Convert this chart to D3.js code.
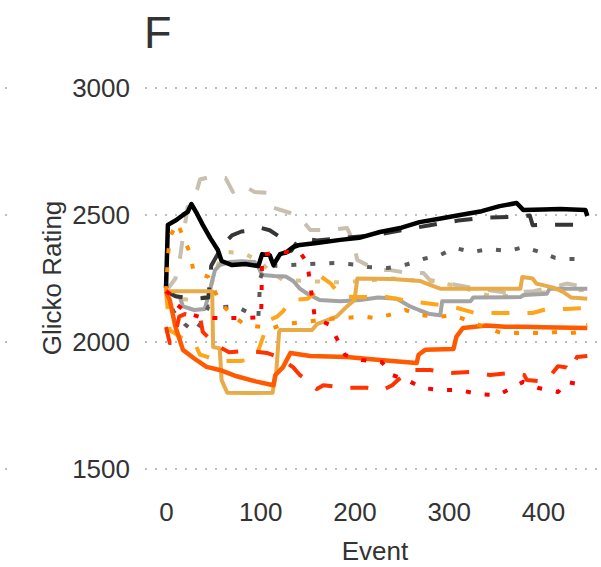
<!DOCTYPE html>
<html><head><meta charset="utf-8">
<script src="https://cdn.jsdelivr.net/npm/d3@7"></script>
<style>html,body{margin:0;padding:0;background:#fff;}svg{display:block;font-family:"Liberation Sans",Arial,sans-serif;}</style>
</head><body>
<svg id="chart" width="601" height="567"></svg>
<script>
// ---- data ----
const panelLabel = "F";
const xTicks = [0, 100, 200, 300, 400];
const yTicks = [1500, 2000, 2500, 3000];
const xTitle = "Event";
const yTitle = "Glicko Rating";

const seriesNames = ["black","darkDashed","darkDotted","graySolid","tanDashed","tanDotted","goldSolid","orangeDashed","orangeDotted","redOrangeSolid","redDashed","redDotted"];
const seriesColors = ["#000000","#363636","#5a5a5a","#a3a3a3","#c9bfae","#dcbf8a","#e8ab48","#ffa51a","#ff8c00","#ff5a00","#ff3300","#ff0000"];
const seriesTypes = ["solid","dashed","dotted","solid","dashed","dotted","solid","dashed","dotted","solid","dashed","dotted"];

const black = [[0,2213],[2,2461],[11,2480],[18,2500],[23,2512],[27,2543],[33,2504],[39,2461],[47,2409],[55,2362],[59,2319],[70,2303],[84,2307],[98,2299],[102,2346],[110,2342],[114,2303],[121,2346],[128,2354],[135,2374],[142,2382],[160,2390],[185,2402],[205,2410],[227,2433],[250,2450],[269,2472],[290,2485],[312,2500],[335,2515],[354,2535],[372,2547],[379,2520],[400,2522],[418,2524],[445,2520],[447,2496]];
const darkDashed = [[0,2200],[10,2180],[30,2170],[45,2175],[48,2300],[60,2380],[70,2420],[80,2435],[92,2440],[100,2450],[110,2440],[121,2413],[126,2350],[133,2360],[142,2410],[160,2400],[190,2410],[220,2420],[250,2440],[280,2460],[310,2478],[340,2490],[365,2492],[386,2498],[389,2460],[420,2462],[445,2461]];
const darkDotted = [[0,2200],[8,2120],[20,2070],[30,2040],[38,2080],[45,2140],[60,2138],[75,2140],[90,2110],[98,2100],[100,2250],[104,2290],[115,2300],[132,2303],[160,2308],[181,2311],[200,2305],[215,2295],[235,2291],[255,2305],[273,2327],[291,2343],[307,2370],[325,2354],[342,2366],[363,2358],[380,2374],[397,2354],[413,2331],[424,2327],[447,2327]];
const graySolid = [[0,2200],[15,2173],[18,2140],[30,2126],[41,2130],[45,2180],[49,2240],[52,2283],[57,2303],[68,2315],[80,2318],[94,2315],[98,2295],[102,2264],[115,2260],[127,2258],[135,2240],[142,2210],[150,2190],[163,2165],[185,2160],[206,2165],[225,2175],[245,2170],[259,2140],[269,2125],[280,2110],[291,2105],[293,2160],[323,2160],[326,2175],[376,2177],[380,2185],[404,2190],[407,2210],[447,2210]];
const tanDashed = [[0,2200],[10,2250],[15,2335],[18,2413],[23,2531],[27,2551],[33,2600],[36,2640],[47,2650],[63,2646],[71,2591],[81,2618],[94,2591],[107,2587],[112,2531],[132,2508],[142,2492],[153,2441],[174,2441],[192,2449],[198,2402],[203,2323],[224,2283],[238,2283],[256,2272],[273,2272],[280,2244],[300,2230],[330,2210],[360,2195],[390,2200],[410,2215],[425,2230],[440,2220],[447,2205]];
const tanDotted = [[0,2200],[5,2185],[13,2173],[25,2165],[36,2173],[45,2180],[50,2250],[57,2323],[66,2354],[82,2350],[97,2323],[110,2280],[124,2244],[150,2240],[180,2235],[210,2240],[240,2250],[256,2244],[280,2240],[310,2220],[340,2185],[370,2180],[400,2195],[420,2200],[447,2205]];
const goldSolid = [[0,2200],[49,2200],[50,1980],[57,1975],[59,1850],[65,1800],[90,1799],[113,1800],[117,1880],[120,2040],[121,2047],[155,2047],[160,2070],[181,2100],[192,2140],[200,2165],[203,2250],[240,2248],[270,2240],[280,2225],[291,2210],[376,2210],[378,2256],[389,2250],[393,2230],[410,2215],[420,2200],[430,2175],[447,2170]];
const orangeDashed = [[0,2200],[2,2120],[4,2047],[15,2020],[30,2000],[36,1950],[45,1940],[57,1925],[79,1925],[95,1935],[103,2020],[110,2087],[118,2100],[124,2120],[132,2165],[150,2170],[160,2200],[165,2256],[175,2230],[185,2180],[200,2177],[234,2177],[260,2160],[291,2146],[309,2134],[328,2114],[389,2114],[404,2130],[425,2130],[447,2134]];
const orangeDotted = [[0,2200],[2,2335],[4,2413],[12,2469],[25,2354],[29,2283],[45,2256],[57,2157],[70,2106],[84,2067],[100,2060],[110,2050],[125,2070],[150,2080],[170,2090],[190,2095],[210,2100],[222,2094],[236,2106],[254,2126],[269,2106],[291,2100],[305,2106],[330,2070],[356,2035],[378,2035],[399,2035],[415,2039],[429,2035],[440,2040],[445,2067],[447,2067]];
const redOrangeSolid = [[0,2200],[4,2165],[10,2060],[18,1969],[30,1935],[43,1902],[57,1890],[75,1865],[95,1845],[114,1830],[116,1870],[124,1900],[132,1957],[153,1945],[192,1941],[227,1929],[266,1917],[268,1950],[275,1969],[305,1972],[308,2020],[315,2055],[340,2065],[360,2060],[380,2060],[400,2058],[447,2055]];
const redDashed = [[0,2059],[4,1996],[8,2000],[14,2100],[20,2110],[36,2100],[39,2040],[47,2010],[57,1980],[67,1960],[86,1965],[107,1957],[120,1940],[135,1900],[142,1870],[150,1850],[160,1815],[167,1830],[188,1820],[213,1820],[230,1811],[240,1830],[246,1850],[259,1890],[280,1890],[301,1878],[323,1882],[344,1870],[365,1878],[380,1870],[383,1850],[400,1845],[405,1855],[416,1905],[425,1900],[429,1885],[436,1941],[447,1945]];
const redDotted = [[0,2200],[4,2190],[9,2154],[23,2114],[39,2094],[60,2094],[80,2094],[101,2098],[102,2343],[119,2354],[142,2354],[150,2311],[154,2200],[158,2094],[174,2067],[182,2008],[190,1949],[208,1929],[229,1921],[240,1870],[256,1850],[272,1819],[291,1811],[312,1811],[331,1795],[352,1791],[367,1819],[379,1843],[395,1819],[416,1803],[425,1843],[447,1827]];

const seriesData = [black,darkDashed,darkDotted,graySolid,tanDashed,tanDotted,goldSolid,orangeDashed,orangeDotted,redOrangeSolid,redDashed,redDotted];
// drawing order (back to front)
const drawOrder = [4,5,3,2,1,0,6,7,9,10,8,11];

// ---- layout ----
const svg = d3.select("#chart");
const W = 601, H = 567;
const x = d3.scaleLinear().domain([0, 400]).range([166, 543]);
const y = d3.scaleLinear().domain([1500, 3000]).range([469, 88]);
const panelLeft = 145;
const textColor = "#333333";

// stray gridline ends of the neighbouring panel
const g0 = svg.append("g");
yTicks.forEach(t => {
  g0.append("line").attr("x1", 5).attr("x2", 12).attr("y1", y(t)).attr("y2", y(t))
    .attr("stroke", "#bdbdbd").attr("stroke-width", 2).attr("stroke-dasharray", "2,8");
});

// grid
const grid = svg.append("g");
yTicks.forEach(t => {
  grid.append("line").attr("x1", panelLeft).attr("x2", W).attr("y1", y(t)).attr("y2", y(t))
    .attr("stroke", "#bdbdbd").attr("stroke-width", 2).attr("stroke-dasharray", "2,8");
});

// axes (labels only)
const yAxis = d3.axisLeft(y).tickValues(yTicks).tickSize(0).tickPadding(0).tickFormat(d3.format("d"));
const yg = svg.append("g").attr("transform", "translate(130,0)").call(yAxis);
yg.select(".domain").remove();
yg.selectAll("text").attr("font-size", 26).attr("fill", textColor).attr("font-family", "Liberation Sans, Arial, sans-serif");

const xAxis = d3.axisBottom(x).tickValues(xTicks).tickSize(0).tickPadding(0).tickFormat(d3.format("d"));
const xg = svg.append("g").attr("transform", "translate(0,503)").call(xAxis);
xg.select(".domain").remove();
xg.selectAll("text").attr("font-size", 26).attr("fill", textColor).attr("font-family", "Liberation Sans, Arial, sans-serif");

svg.append("text").attr("x", 375).attr("y", 560).attr("text-anchor", "middle")
  .attr("font-size", 26).attr("fill", textColor).text(xTitle);
svg.append("text").attr("transform", "translate(61,278) rotate(-90)").attr("text-anchor", "middle")
  .attr("font-size", 26).attr("fill", textColor).text(yTitle);
svg.append("text").attr("x", 144).attr("y", 48).attr("font-size", 45).attr("fill", textColor).text(panelLabel);

// lines
const line = d3.line().x(d => x(d[0])).y(d => y(d[1])).curve(d3.curveLinear);
const dashFor = t => t === "dashed" ? "18,18" : (t === "dotted" ? "5,14" : null);
const lg = svg.append("g");
drawOrder.forEach(i => {
  lg.append("path").datum(seriesData[i])
    .attr("d", line)
    .attr("fill", "none")
    .attr("stroke", seriesColors[i])
    .attr("stroke-width", (i === 0 || i === 9) ? 4.5 : 4)
    .attr("stroke-linejoin", "round")
    .attr("stroke-linecap", "butt")
    .attr("stroke-dasharray", dashFor(seriesTypes[i]))
    .attr("class", seriesNames[i]);
});
</script>
</body></html>
